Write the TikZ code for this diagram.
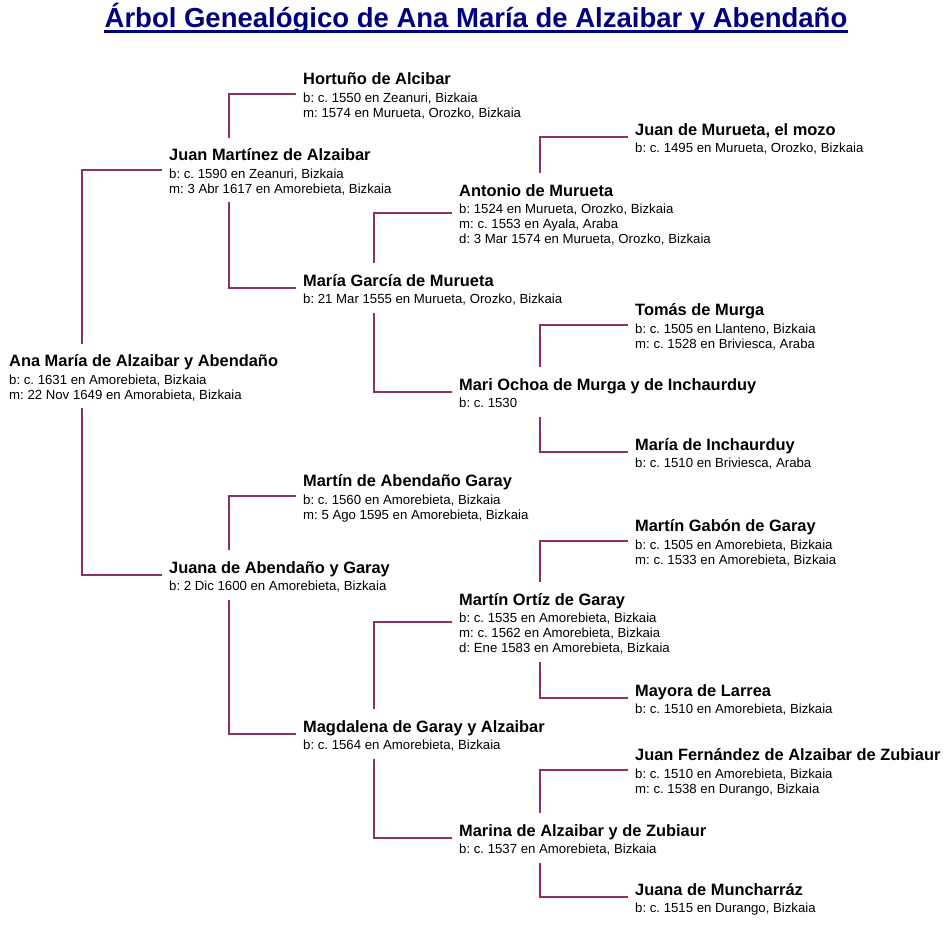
\documentclass[tikz,border=0pt]{standalone}
\usepackage{fontspec}
\setmainfont{Liberation Sans}
\usetikzlibrary{positioning}
\frenchspacing
\definecolor{navytitle}{RGB}{0,0,128}
\definecolor{plumline}{RGB}{139,49,99}
\newcommand{\namefont}{\fontsize{16.4}{15}\selectfont\bfseries}
\newcommand{\who}[2]{\rule{0pt}{22.5pt}{\namefont #1}\\[2.5pt]#2\rule[-9pt]{0pt}{9pt}}

\begin{document}
\begin{tikzpicture}[x=1pt, y=-1pt,
    person/.style={anchor=west, align=left, inner xsep=7pt, inner ysep=0pt,
      font=\fontsize{13.2}{15}\selectfont},
    link/.style={draw=plumline, line width=2pt}]
    \useasboundingbox (0,0) rectangle (952,924);

    \node[anchor=base, inner sep=0pt, text=navytitle, font=\fontsize{27.5}{30}\selectfont\bfseries] (title) at (476,27)
      {Árbol Genealógico de Ana María de Alzaibar y Abendaño};
    \draw[navytitle, line width=2.6pt] ([yshift=-4.3pt]title.base west) -- ([yshift=-4.3pt]title.base east);

    \coordinate (c0) at (82,0);
    \coordinate (c1) at (229,0);
    \coordinate (c2) at (374,0);
    \coordinate (c3) at (540,0);

    \node[person] (n1) at (2,376) {\who{Ana María de Alzaibar y Abendaño}{b: c. 1631 en Amorebieta, Bizkaia\\m: 22 Nov 1649 en Amorabieta, Bizkaia}};

    \node[person] (n2) at (162,170) {\who{Juan Martínez de Alzaibar}{b: c. 1590 en Zeanuri, Bizkaia\\m: 3 Abr 1617 en Amorebieta, Bizkaia}};
    \node[person] (n3) at (162,575) {\who{Juana de Abendaño y Garay}{b: 2 Dic 1600 en Amorebieta, Bizkaia}};

    \node[person] (n4) at (296,94) {\who{Hortuño de Alcibar}{b: c. 1550 en Zeanuri, Bizkaia\\m: 1574 en Murueta, Orozko, Bizkaia}};
    \node[person] (n5) at (296,288) {\who{María García de Murueta}{b: 21 Mar 1555 en Murueta, Orozko, Bizkaia}};
    \node[person] (n6) at (296,496) {\who{Martín de Abendaño Garay}{b: c. 1560 en Amorebieta, Bizkaia\\m: 5 Ago 1595 en Amorebieta, Bizkaia}};
    \node[person] (n7) at (296,734) {\who{Magdalena de Garay y Alzaibar}{b: c. 1564 en Amorebieta, Bizkaia}};

    \node[person] (n10) at (452,213) {\who{Antonio de Murueta}{b: 1524 en Murueta, Orozko, Bizkaia\\m: c. 1553 en Ayala, Araba\\d: 3 Mar 1574 en Murueta, Orozko, Bizkaia}};
    \node[person] (n11) at (452,392) {\who{Mari Ochoa de Murga y de Inchaurduy}{b: c. 1530}};
    \node[person] (n14) at (452,622) {\who{Martín Ortíz de Garay}{b: c. 1535 en Amorebieta, Bizkaia\\m: c. 1562 en Amorebieta, Bizkaia\\d: Ene 1583 en Amorebieta, Bizkaia}};
    \node[person] (n15) at (452,838) {\who{Marina de Alzaibar y de Zubiaur}{b: c. 1537 en Amorebieta, Bizkaia}};

    \node[person] (n20) at (628,137) {\who{Juan de Murueta, el mozo}{b: c. 1495 en Murueta, Orozko, Bizkaia}};
    \node[person] (n22) at (628,325) {\who{Tomás de Murga}{b: c. 1505 en Llanteno, Bizkaia\\m: c. 1528 en Briviesca, Araba}};
    \node[person] (n23) at (628,452) {\who{María de Inchaurduy}{b: c. 1510 en Briviesca, Araba}};
    \node[person] (n28) at (628,541) {\who{Martín Gabón de Garay}{b: c. 1505 en Amorebieta, Bizkaia\\m: c. 1533 en Amorebieta, Bizkaia}};
    \node[person] (n29) at (628,698) {\who{Mayora de Larrea}{b: c. 1510 en Amorebieta, Bizkaia}};
    \node[person] (n30) at (628,770) {\who{Juan Fernández de Alzaibar de Zubiaur}{b: c. 1510 en Amorebieta, Bizkaia\\m: c. 1538 en Durango, Bizkaia}};
    \node[person] (n31) at (628,897) {\who{Juana de Muncharráz}{b: c. 1515 en Durango, Bizkaia}};

    \draw[link] (n1.north -| c0) |- (n2.west);
    \draw[link] (n1.south -| c0) |- (n3.west);

    \draw[link] (n2.north -| c1) |- (n4.west);
    \draw[link] (n2.south -| c1) |- (n5.west);
    \draw[link] (n3.north -| c1) |- (n6.west);
    \draw[link] (n3.south -| c1) |- (n7.west);

    \draw[link] (n5.north -| c2) |- (n10.west);
    \draw[link] (n5.south -| c2) |- (n11.west);
    \draw[link] (n7.north -| c2) |- (n14.west);
    \draw[link] (n7.south -| c2) |- (n15.west);

    \draw[link] (n10.north -| c3) |- (n20.west);
    \draw[link] (n11.north -| c3) |- (n22.west);
    \draw[link] (n11.south -| c3) |- (n23.west);
    \draw[link] (n14.north -| c3) |- (n28.west);
    \draw[link] (n14.south -| c3) |- (n29.west);
    \draw[link] (n15.north -| c3) |- (n30.west);
    \draw[link] (n15.south -| c3) |- (n31.west);
  \end{tikzpicture}
\end{document}
